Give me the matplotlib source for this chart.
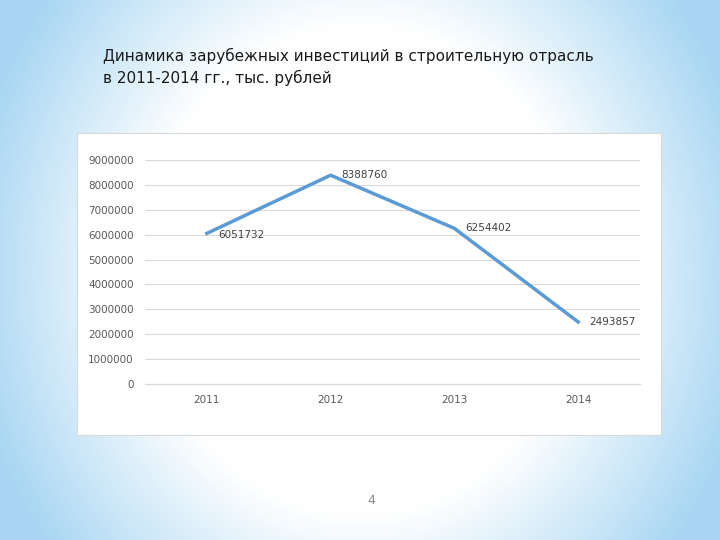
import matplotlib
matplotlib.use("Agg")
import matplotlib.pyplot as plt
import numpy as np

years = ["2011", "2012", "2013", "2014"]
values = [6051732, 8388760, 6254402, 2493857]
yticks = [0, 1000000, 2000000, 3000000, 4000000, 5000000, 6000000, 7000000, 8000000, 9000000]

W, H = 720, 540
fig = plt.figure(figsize=(7.2, 5.4), dpi=100)

bg = fig.add_axes([0, 0, 1, 1])
yy, xx = np.mgrid[0:H, 0:W]
d = np.sqrt(((xx - W/2) / (W*0.5))**2 + ((yy - H/2) / (H*0.75))**2)
t = np.clip((d - 0.6) / 0.5, 0, 1)
c0 = np.array([1.0, 1.0, 1.0]); c1 = np.array([0.66, 0.84, 0.95])
img = c0[None, None, :] * (1 - t[..., None]) + c1[None, None, :] * t[..., None]
bg.imshow(img, extent=[0, W, H, 0], aspect='auto')
bg.set_xlim(0, W); bg.set_ylim(H, 0); bg.axis('off')
bg.add_patch(plt.Rectangle((77, 133), 584, 302, facecolor='white', edgecolor='#d9d9d9', lw=0.8))

fig.text(103/W, 1 - 67/H, "Динамика зарубежных инвестиций в строительную отрасль\nв 2011-2014 гг., тыс. рублей",
         fontsize=11, color='#1a1a1a', va='center', ha='left', linespacing=1.45, family='DejaVu Sans')
fig.text(371/W, 1 - 500/H, "4", fontsize=9, color='#888888', ha='center', va='center')

ax = fig.add_axes([145/W, 1 - 384/H, (640-145)/W, (384-160)/H])
ax.set_facecolor('none')
x = np.arange(len(years))
ax.plot(x, values, color='#5b9bd5', lw=2.5)
ax.set_xlim(-0.5, 3.5)
ax.set_ylim(0, 9000000)
ax.set_yticks(yticks)
ax.set_yticklabels([str(v) for v in yticks], fontsize=7.5, color='#595959')
ax.set_xticks(x)
ax.set_xticklabels(years, fontsize=7.5, color='#595959')
ax.tick_params(length=0, pad=8)
ax.grid(axis='y', color='#d9d9d9', lw=0.8)
for s in ['top', 'right', 'left']:
    ax.spines[s].set_visible(False)
ax.spines['bottom'].set_color('#d9d9d9')
offsets = [(8, -1), (8, 0), (8, 0), (8, 0)]
for xi, v, off in zip(x, values, offsets):
    ax.annotate(str(v), (xi, v), xytext=off, textcoords='offset points',
                fontsize=7.5, color='#404040', va='center', ha='left')
fig.savefig("out.png", dpi=100)
